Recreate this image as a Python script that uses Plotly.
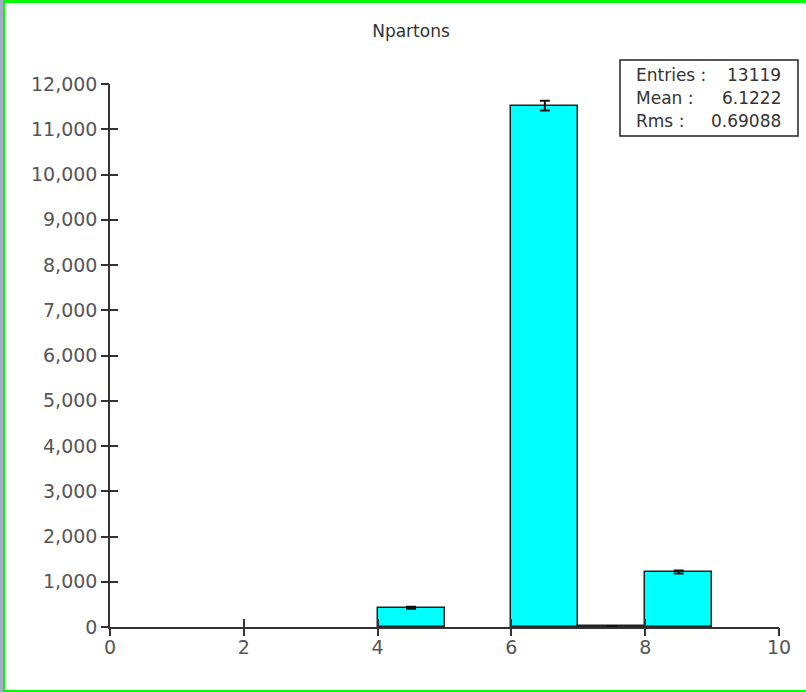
import numpy as np
import plotly.graph_objects as go

# Histogram of Npartons (unit-width bins)
bin_edges = [0, 1, 2, 3, 4, 5, 6, 7, 8, 9, 10]
bin_lows = [4, 6, 7, 8]
counts = [425, 11520, 20, 1215]
stat_labels = ["Entries :", "Mean :", "Rms :"]
stat_values = ["13119", "6.1222", "0.69088"]
x_ticks = [0, 2, 4, 6, 8, 10]
y_ticks = [0, 1000, 2000, 3000, 4000, 5000, 6000, 7000, 8000, 9000, 10000, 11000, 12000]

W, H = 806, 692
ML, MR, MT, MB = 110, 27, 84, 65
PW, PH = W - ML - MR, H - MT - MB


def px(x):
    return (x - ML) / PW


def py(y):
    return (H - MB - y) / PH


centers = [b + 0.5 for b in bin_lows]
errors = list(np.sqrt(counts))

FONT = "DejaVu Sans"
AX = "#333333"
LBL = "#555555"

fig = go.Figure()
fig.add_trace(go.Bar(
    x=centers, y=counts, width=1.0,
    marker=dict(color="#00ffff", line=dict(color="#222222", width=1.5)),
    error_y=dict(type="data", array=errors, visible=True,
                 color="#111111", thickness=2, width=5),
    showlegend=False, hoverinfo="x+y",
))
# empty trace carrying the overlaid axes for the outward half of the ticks
fig.add_trace(go.Scatter(x=[], y=[], xaxis="x2", yaxis="y2",
                         showlegend=False, hoverinfo="skip"))

axis_common = dict(showgrid=False, zeroline=False, ticklen=8, tickwidth=1.5,
                   tickcolor=AX)
fig.update_layout(
    width=W, height=H,
    margin=dict(l=ML, r=MR, t=MT, b=MB, pad=0),
    paper_bgcolor="white", plot_bgcolor="white",
    bargap=0,
    title=dict(text="Npartons", xref="container", x=411 / W, xanchor="center",
               y=1 - 31 / H, yanchor="middle",
               font=dict(family=FONT, size=17, color="#333333")),
    xaxis=dict(range=[bin_edges[0], bin_edges[-1]], tickvals=x_ticks,
               ticks="inside", showline=True, linecolor=AX, linewidth=1.5,
               tickfont=dict(family=FONT, size=19, color=LBL),
               ticklabelstandoff=2, **axis_common),
    yaxis=dict(range=[0, 12000], tickvals=y_ticks, tickformat=",d",
               ticks="inside", showline=True, linecolor=AX, linewidth=1.5,
               tickfont=dict(family=FONT, size=19, color=LBL),
               ticklabelstandoff=7, **axis_common),
    xaxis2=dict(range=[bin_edges[0], bin_edges[-1]], tickvals=x_ticks,
                overlaying="x", anchor="y2", side="bottom", ticks="outside",
                showticklabels=False, showline=False, **axis_common),
    yaxis2=dict(range=[0, 12000], tickvals=y_ticks, overlaying="y",
                anchor="x2", side="left", ticks="outside",
                showticklabels=False, showline=False, **axis_common),
)

# statistics box
fig.add_shape(type="rect", xref="paper", yref="paper",
              x0=px(620), x1=px(798), y0=py(136), y1=py(60),
              line=dict(color="#222222", width=1.5), fillcolor="white")
for i, (lab, val) in enumerate(zip(stat_labels, stat_values)):
    yc = py(75 + 23 * i)
    fig.add_annotation(text=lab, xref="paper", yref="paper", x=px(634), y=yc,
                       xanchor="left", yanchor="middle", showarrow=False,
                       font=dict(family=FONT, size=17, color="#333333"))
    fig.add_annotation(text=val, xref="paper", yref="paper", x=px(783), y=yc,
                       xanchor="right", yanchor="middle", showarrow=False,
                       font=dict(family=FONT, size=17, color="#333333"))

# window frame
frame = [
    (0, 3, 0, H, "#a3aacb"),
    (3, 5, 0, H, "#00ff00"),
    (3, W, 0, 3, "#00ff00"),
    (3, W, H - 2, H, "#00ff00"),
]
for x0, x1, y0, y1, c in frame:
    fig.add_shape(type="rect", xref="paper", yref="paper",
                  x0=px(x0), x1=px(x1), y0=py(y1), y1=py(y0),
                  line=dict(width=0), fillcolor=c, layer="above")

fig.write_html("out.html")
